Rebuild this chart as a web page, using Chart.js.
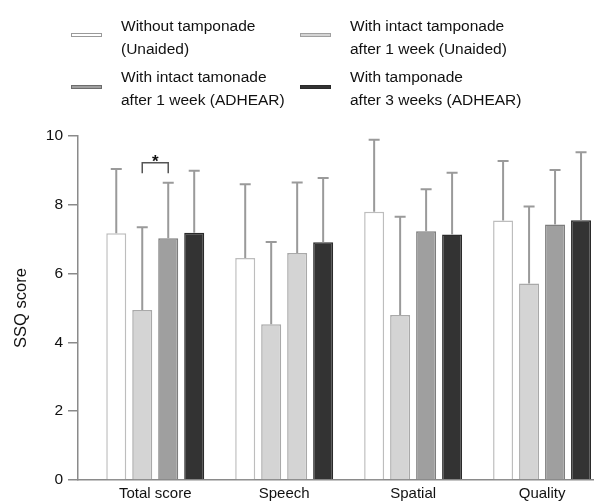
<!DOCTYPE html>
<html>
<head>
<meta charset="utf-8">
<script src="https://cdn.jsdelivr.net/npm/chart.js@4"></script>
<style>
  html, body { margin: 0; padding: 0; background: #fff; overflow: hidden; }
  #wrap { position: relative; width: 601px; height: 503px; }
  canvas { position: absolute; left: 0; top: 0; }
  .lg-swatch { position: absolute; width: 31px; height: 4px; box-sizing: border-box; border: 1px solid; }
  .lg-text { position: absolute; font-family: "Liberation Sans", Arial, sans-serif; font-size: 15.5px; line-height: 23px; color: #111; white-space: nowrap; }
</style>
</head>
<body>
<div id="wrap">
  <canvas id="ssq-chart" width="601" height="503"></canvas>
</div>
<script>
const categories = ["Total score", "Speech", "Spatial", "Quality"];

const seriesLabels = [
    ["Without tamponade", "(Unaided)"],
    ["With intact tamponade", "after 1 week (Unaided)"],
    ["With intact tamonade", "after 1 week (ADHEAR)"],
    ["With tamponade", "after 3 weeks (ADHEAR)"]
];

// mean scores per category
const withoutUnaided = [7.17, 6.45, 7.80, 7.54];
const intactUnaided = [4.94, 4.53, 4.80, 5.71];
const intactAdhear = [7.03, 6.60, 7.23, 7.43];
const threeWeeksAdhear = [7.19, 6.91, 7.14, 7.55];

// top of the error bar (mean + SD)
const withoutUnaidedErr = [9.04, 8.60, 9.89, 9.27];
const intactUnaidedErr = [7.35, 6.92, 7.65, 7.95];
const intactAdhearErr = [8.64, 8.65, 8.45, 9.01];
const threeWeeksAdhearErr = [8.99, 8.78, 8.93, 9.53];

const yTicks = [0, 2, 4, 6, 8, 10];

// significance bracket: category index, the two series it joins, height
const sigBrackets = [
    { category: 0, from: 1, to: 2, value: 9.22, mark: "*" }
];

const fills = [
    "#ffffff",
    "#d4d4d4",
    ["#9f9f9f", "#d4d4d4", "#9f9f9f", "#9f9f9f"],
    "#333333"
];
const borders = [
    "#bdbdbd",
    "#a9a9a9",
    ["#7d7d7d", "#a9a9a9", "#7d7d7d", "#7d7d7d"],
    "#2a2a2a"
];
const legendFills = ["#ffffff", "#d4d4d4", "#9f9f9f", "#333333"];
const legendBorders = ["#9a9a9a", "#a0a0a0", "#6d6d6d", "#2a2a2a"];

const means = [withoutUnaided, intactUnaided, intactAdhear, threeWeeksAdhear];
const errors = [withoutUnaidedErr, intactUnaidedErr, intactAdhearErr, threeWeeksAdhearErr];

// html legend, two columns
const wrap = document.getElementById("wrap");
const legendPos = [
    { sx: 71, sy: 33, tx: 121, ty: 14 },
    { sx: 300, sy: 33, tx: 350, ty: 14 },
    { sx: 71, sy: 85, tx: 121, ty: 65 },
    { sx: 300, sy: 85, tx: 350, ty: 65 }
];
seriesLabels.forEach((lines, i) => {
    const sw = document.createElement("div");
    sw.className = "lg-swatch";
    sw.style.left = legendPos[i].sx + "px";
    sw.style.top = legendPos[i].sy + "px";
    sw.style.background = legendFills[i];
    sw.style.borderColor = legendBorders[i];
    wrap.appendChild(sw);
    const tx = document.createElement("div");
    tx.className = "lg-text";
    tx.style.left = legendPos[i].tx + "px";
    tx.style.top = legendPos[i].ty + "px";
    tx.innerHTML = lines.join("<br>");
    wrap.appendChild(tx);
});

const errorBars = {
    id: "errorBars",
    afterDatasetsDraw(chart) {
        const ctx = chart.ctx;
        const y = chart.scales.y;
        ctx.save();
        ctx.strokeStyle = "#9a9a9a";
        ctx.lineWidth = 2;
        chart.data.datasets.forEach((ds, di) => {
            const meta = chart.getDatasetMeta(di);
            meta.data.forEach((bar, i) => {
                const top = y.getPixelForValue(errors[di][i]);
                ctx.beginPath();
                ctx.moveTo(bar.x, bar.y);
                ctx.lineTo(bar.x, top);
                ctx.moveTo(bar.x - 5.5, top);
                ctx.lineTo(bar.x + 5.5, top);
                ctx.stroke();
            });
        });

        // significance bracket
        ctx.strokeStyle = "#555";
        ctx.lineWidth = 1.5;
        ctx.fillStyle = "#111";
        ctx.font = "bold 17px 'Liberation Sans', Arial, sans-serif";
        ctx.textAlign = "center";
        ctx.textBaseline = "alphabetic";
        sigBrackets.forEach((s) => {
            const a = chart.getDatasetMeta(s.from).data[s.category];
            const b = chart.getDatasetMeta(s.to).data[s.category];
            const yy = y.getPixelForValue(s.value);
            ctx.beginPath();
            ctx.moveTo(a.x, yy + 10.5);
            ctx.lineTo(a.x, yy);
            ctx.lineTo(b.x, yy);
            ctx.lineTo(b.x, yy + 10.5);
            ctx.stroke();
            ctx.fillText(s.mark, (a.x + b.x) / 2, yy + 4);
        });
        ctx.restore();
    }
};

const chart = new Chart(document.getElementById("ssq-chart"), {
    type: "bar",
    data: {
        datasets: means.map((vals, di) => ({
            label: seriesLabels[di].join(" "),
            data: vals.map((v, i) => ({ x: i, y: v })),
            backgroundColor: fills[di],
            borderColor: borders[di],
            borderWidth: 1.5,
            categoryPercentage: 0.806,
            barPercentage: 0.77
        }))
    },
    options: {
        responsive: false,
        animation: false,
        layout: { padding: { top: 136, right: 8, left: 0, bottom: 0 } },
        plugins: {
            legend: { display: false },
            tooltip: { enabled: false }
        },
        scales: {
            x: {
                type: "linear",
                offset: false,
                min: -0.599,
                max: 3.395,
                grid: { display: false, drawTicks: false },
                border: { color: "#8a8a8a", width: 1.5 },
                afterFit: (scale) => { scale.height = 23; },
                ticks: {
                    stepSize: 1,
                    includeBounds: false,
                    autoSkip: false,
                    maxRotation: 0,
                    padding: 5,
                    color: "#111",
                    font: { family: "'Liberation Sans', Arial, sans-serif", size: 15 },
                    callback: (v) => categories[v] ?? ""
                }
            },
            y: {
                min: 0,
                max: 10,
                afterFit: (scale) => { scale.width = 78; },
                afterBuildTicks: (scale) => { scale.ticks = yTicks.map((v) => ({ value: v })); },
                grid: { drawOnChartArea: false, tickLength: 10, tickColor: "#8a8a8a", lineWidth: 1.5 },
                border: { color: "#8a8a8a", width: 1.5 },
                ticks: {
                    padding: 5,
                    color: "#111",
                    font: { family: "'Liberation Sans', Arial, sans-serif", size: 15.5 }
                },
                title: {
                    display: true,
                    text: "SSQ score",
                    color: "#111",
                    padding: { top: 12, bottom: 0 },
                    font: { family: "'Liberation Sans', Arial, sans-serif", size: 16.5 }
                }
            }
        }
    },
    plugins: [errorBars]
});
</script>
</body>
</html>
